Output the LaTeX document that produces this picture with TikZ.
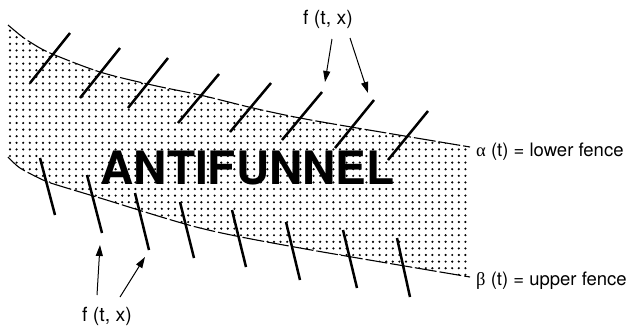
\documentclass[tikz,border=0pt]{standalone}
\usepackage{fontspec}
\setmainfont{TeX Gyre Heros}
\newfontfamily\greekfont{Liberation Serif}
\usetikzlibrary{arrows.meta}
\begin{document}
\begin{tikzpicture}[x=1pt,y=-1pt,
  fence/.style={line width=1.1pt, dash pattern=on 22pt off 3pt},
  slopeseg/.style={line width=2.5pt},
  lbl/.style={font=\fontsize{19.5}{22}\selectfont, inner sep=0pt},
  sidelbl/.style={font=\fontsize{18.5}{22}\selectfont, inner sep=0pt},
  ptr/.style={line width=1pt, -{Triangle[length=11pt,width=7pt]}},
  dot/.style={fill=black}
]
\useasboundingbox (0,0) rectangle (632,327);
% dotted region
\begin{scope}
\clip plot[smooth] coordinates {(8,25) (20,35) (30,42) (50,53) (100,72) (152,85) (200,95) (253,108) (300,118) (357,128) (470,147)}
  -- plot[smooth] coordinates {(470,277) (300,248) (200,228) (100,198) (57,185) (43,180) (20,168) (8,157)} -- cycle;
\foreach \i in {0,...,71} {
  \foreach \j in {0,...,42} {
    \fill[dot] (10+\i*6.6, 24+\j*6.6) circle (1.2pt);
  }
}
\end{scope}
% fences
\draw[fence] plot[smooth] coordinates {(8,25) (20,35) (30,42) (50,53) (100,72) (152,85) (200,95) (253,108) (300,118) (357,128) (470,147)};
\draw[fence] plot[smooth] coordinates {(8,157) (20,168) (43,180) (57,185) (100,198) (200,228) (300,248) (470,277)};
% title
\node[font=\fontsize{46}{50}\selectfont\bfseries, inner sep=0pt] (title) at (247.5,168.5) {ANTIFUNNEL};
% slope marks
\foreach \a/\b/\c/\d in {30/83/70/33, 80/98/120/48, 128/108/168/58, 178/123/219/74, 230/132/271/83, 282/140/322/92, 335/148/374/100, 388/160/428/111}
  \draw[slopeseg] (\a,\b) -- (\c,\d);
\foreach \a/\b/\c/\d in {40/158/55/215, 87/175/102/233, 135/193/149/250, 180/202/194/258, 232/210/246/267, 286/222/300/280, 343/230/357/288, 397/238/410/297}
  \draw[slopeseg] (\a,\b) -- (\c,\d);
% labels
\node[sidelbl, anchor=west] (alpha) at (476,152) {{\greekfont α} (t) = lower fence};
\node[sidelbl, anchor=west] (beta) at (476,281) {{\greekfont β} (t) = upper fence};
\node[lbl] (ftop) at (328,19) {f (t, x)};
\node[lbl] (fbot) at (107,316) {f (t, x)};
% arrows
\coordinate (ta1) at (332,39); \coordinate (ta1e) at (325,82);
\coordinate (ta2) at (350,38); \coordinate (ta2e) at (368,93);
\coordinate (ba1) at (97,295); \coordinate (ba1e) at (100,245);
\coordinate (ba2) at (120,297); \coordinate (ba2e) at (145,257);
\draw[ptr] (ta1) -- (ta1e);
\draw[ptr] (ta2) -- (ta2e);
\draw[ptr] (ba1) -- (ba1e);
\draw[ptr] (ba2) -- (ba2e);
\end{tikzpicture}
\end{document}
